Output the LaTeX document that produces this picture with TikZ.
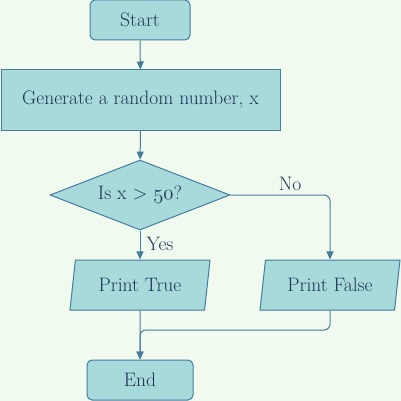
\documentclass[tikz,border=0pt]{standalone}
\usepackage{fontspec}
\usetikzlibrary{shapes.geometric,arrows.meta,calc}
\definecolor{bgc}{HTML}{F1FAEE}
\definecolor{fillc}{HTML}{A8DADC}
\definecolor{linec}{HTML}{457B9D}
\definecolor{textc}{HTML}{1D3557}
\newcommand{\osn}[1]{{\usefont{OML}{cmm}{m}{it}#1}}
\tikzset{
  base/.style={draw=linec, fill=fillc, line width=1pt, text=textc, inner sep=0pt,
    font=\fontsize{19.5}{22}\selectfont},
  term/.style={base, rectangle, rounded corners=5pt, minimum height=40pt},
  proc/.style={base, rectangle, minimum width=279pt, minimum height=60pt},
  decide/.style={base, diamond, aspect=2.571, minimum width=180pt, minimum height=70pt},
  io/.style={base, trapezium, trapezium left angle=68.2, trapezium right angle=111.8,
    trapezium stretches body, minimum width=140pt, minimum height=50pt},
  conn/.style={draw=linec, line width=1pt, -{Triangle[length=8pt,width=7pt]}},
  lbl/.style={text=textc, font=\fontsize{19.5}{22}\selectfont, inner sep=0pt}
}
\begin{document}
\begin{tikzpicture}[x=1pt,y=-1pt]
\fill[bgc] (0,0) rectangle (401,401);
\useasboundingbox (0,0) rectangle (401,401);
\node[term, minimum width=100pt] (start) at (140,20) {Start};
\node[proc] (gen) at (140.5,100) {Generate a random number, x};
\node[decide] (dec) at (140,195) {Is x > \osn{50}?};
\node[io] (pt) at (140,285) {Print True};
\node[io] (pf) at (330,285) {Print False};
\node[term, minimum width=106pt] (end) at (140,380) {End};
\coordinate (merge) at (140,330);
\draw[conn] (start) -- (gen);
\draw[conn] (gen) -- (dec);
\draw[conn] (dec) -- node[lbl, right=6pt, pos=0.45] (yes) {Yes} (pt);
\draw[conn, rounded corners=6pt] (dec.east) -| node[lbl, pos=0.3, above=4pt] (no) {No} (pf.north);
\draw[conn] (pt) -- (end);
\draw[conn, rounded corners=6pt] (pf.south) |- (merge) -- (end.north);
\end{tikzpicture}
\end{document}
